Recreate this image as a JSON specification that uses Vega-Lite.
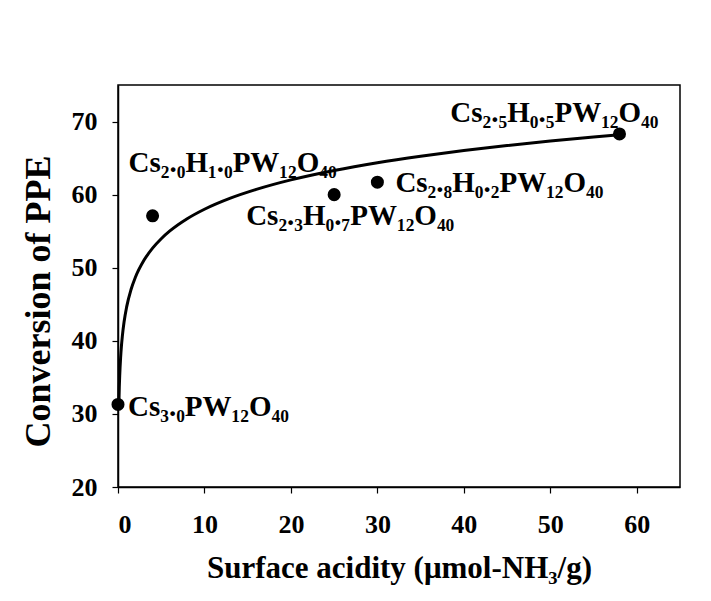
{
  "$schema": "https://vega.github.io/schema/vega-lite/v6.json",
  "width": 562,
  "height": 402,
  "autosize": "none",
  "padding": {"left": 118, "top": 85, "right": 31, "bottom": 114},
  "background": "white",
  "config": {
    "view": {"stroke": "black", "strokeWidth": 1.5},
    "font": "Liberation Serif"
  },
  "datasets": {
    "pts": [
      {"acidity": 0, "conversion": 31.3, "label": "Cs₃.₀PW₁₂O₄₀"},
      {"acidity": 4, "conversion": 57.1, "label": "Cs₂.₀H₁.₀PW₁₂O₄₀"},
      {"acidity": 25, "conversion": 60.0, "label": "Cs₂.₃H₀.₇PW₁₂O₄₀"},
      {"acidity": 30, "conversion": 61.7, "label": "Cs₂.₈H₀.₂PW₁₂O₄₀"},
      {"acidity": 58, "conversion": 68.3, "label": "Cs₂.₅H₀.₅PW₁₂O₄₀"}
    ],
    "fit": [
      {"acidity": 0.1, "conversion": 31.29},
      {"acidity": 0.15, "conversion": 33.64},
      {"acidity": 0.2, "conversion": 35.31},
      {"acidity": 0.3, "conversion": 37.66},
      {"acidity": 0.4, "conversion": 39.33},
      {"acidity": 0.5, "conversion": 40.62},
      {"acidity": 0.7, "conversion": 42.57},
      {"acidity": 1, "conversion": 44.64},
      {"acidity": 1.5, "conversion": 46.99},
      {"acidity": 2, "conversion": 48.66},
      {"acidity": 3, "conversion": 51.01},
      {"acidity": 4, "conversion": 52.68},
      {"acidity": 5, "conversion": 53.97},
      {"acidity": 6, "conversion": 55.03},
      {"acidity": 8, "conversion": 56.70},
      {"acidity": 10, "conversion": 58.00},
      {"acidity": 13, "conversion": 59.52},
      {"acidity": 16, "conversion": 60.72},
      {"acidity": 20, "conversion": 62.02},
      {"acidity": 25, "conversion": 63.31},
      {"acidity": 30, "conversion": 64.37},
      {"acidity": 35, "conversion": 65.26},
      {"acidity": 40, "conversion": 66.04},
      {"acidity": 45, "conversion": 66.72},
      {"acidity": 50, "conversion": 67.33},
      {"acidity": 55, "conversion": 67.88},
      {"acidity": 58, "conversion": 68.19}
    ]
  },
  "encoding": {
    "x": {
      "field": "acidity", "type": "quantitative",
      "scale": {"domain": [0, 65], "nice": false, "zero": false},
      "axis": {
        "title": "Surface acidity (μmol-NH₃/g)",
        "values": [0, 10, 20, 30, 40, 50, 60],
        "grid": false, "domainColor": "black", "tickColor": "black",
        "tickSize": 6, "tickWidth": 1.2, "domainWidth": 1.5,
        "labelFont": "Liberation Serif", "labelFontSize": 26, "labelFontWeight": "bold",
        "labelColor": "black", "labelPadding": 18,
        "titleFont": "Liberation Serif", "titleFontSize": 31, "titleFontWeight": "bold",
        "titleColor": "black", "titlePadding": 16
      }
    },
    "y": {
      "field": "conversion", "type": "quantitative",
      "scale": {"domain": [20, 75], "nice": false, "zero": false},
      "axis": {
        "title": "Conversion of PPE",
        "values": [20, 30, 40, 50, 60, 70],
        "grid": false, "domainColor": "black", "tickColor": "black",
        "tickSize": 6, "tickWidth": 1.2, "domainWidth": 1.5,
        "labelFont": "Liberation Serif", "labelFontSize": 26, "labelFontWeight": "bold",
        "labelColor": "black", "labelPadding": 15,
        "titleFont": "Liberation Serif", "titleFontSize": 36, "titleFontWeight": "bold",
        "titleColor": "black", "titlePadding": 14, "titleY": 216
      }
    }
  },
  "layer": [
    {
      "data": {"name": "fit"},
      "mark": {"type": "line", "color": "black", "strokeWidth": 3, "interpolate": "monotone"}
    },
    {
      "data": {"name": "pts"},
      "mark": {"type": "point", "filled": true, "color": "black", "size": 170, "opacity": 1}
    },
    {
      "data": {"name": "pts"},
      "transform": [{"filter": "datum.acidity == 0"}],
      "mark": {"type": "text", "align": "left", "baseline": "middle", "dx": 10, "dy": 3, "font": "Liberation Serif", "fontSize": 29, "fontWeight": "bold", "color": "black"},
      "encoding": {"text": {"field": "label"}}
    },
    {
      "data": {"name": "pts"},
      "transform": [{"filter": "datum.acidity == 4"}],
      "mark": {"type": "text", "align": "left", "baseline": "middle", "dx": -24, "dy": -53, "font": "Liberation Serif", "fontSize": 29, "fontWeight": "bold", "color": "black"},
      "encoding": {"text": {"field": "label"}}
    },
    {
      "data": {"name": "pts"},
      "transform": [{"filter": "datum.acidity == 25"}],
      "mark": {"type": "text", "align": "left", "baseline": "middle", "dx": -88, "dy": 21, "font": "Liberation Serif", "fontSize": 29, "fontWeight": "bold", "color": "black"},
      "encoding": {"text": {"field": "label"}}
    },
    {
      "data": {"name": "pts"},
      "transform": [{"filter": "datum.acidity == 30"}],
      "mark": {"type": "text", "align": "left", "baseline": "middle", "dx": 18, "dy": 1, "font": "Liberation Serif", "fontSize": 29, "fontWeight": "bold", "color": "black"},
      "encoding": {"text": {"field": "label"}}
    },
    {
      "data": {"name": "pts"},
      "transform": [{"filter": "datum.acidity == 58"}],
      "mark": {"type": "text", "align": "right", "baseline": "middle", "dx": 39, "dy": -21, "font": "Liberation Serif", "fontSize": 29, "fontWeight": "bold", "color": "black"},
      "encoding": {"text": {"field": "label"}}
    }
  ]
}
